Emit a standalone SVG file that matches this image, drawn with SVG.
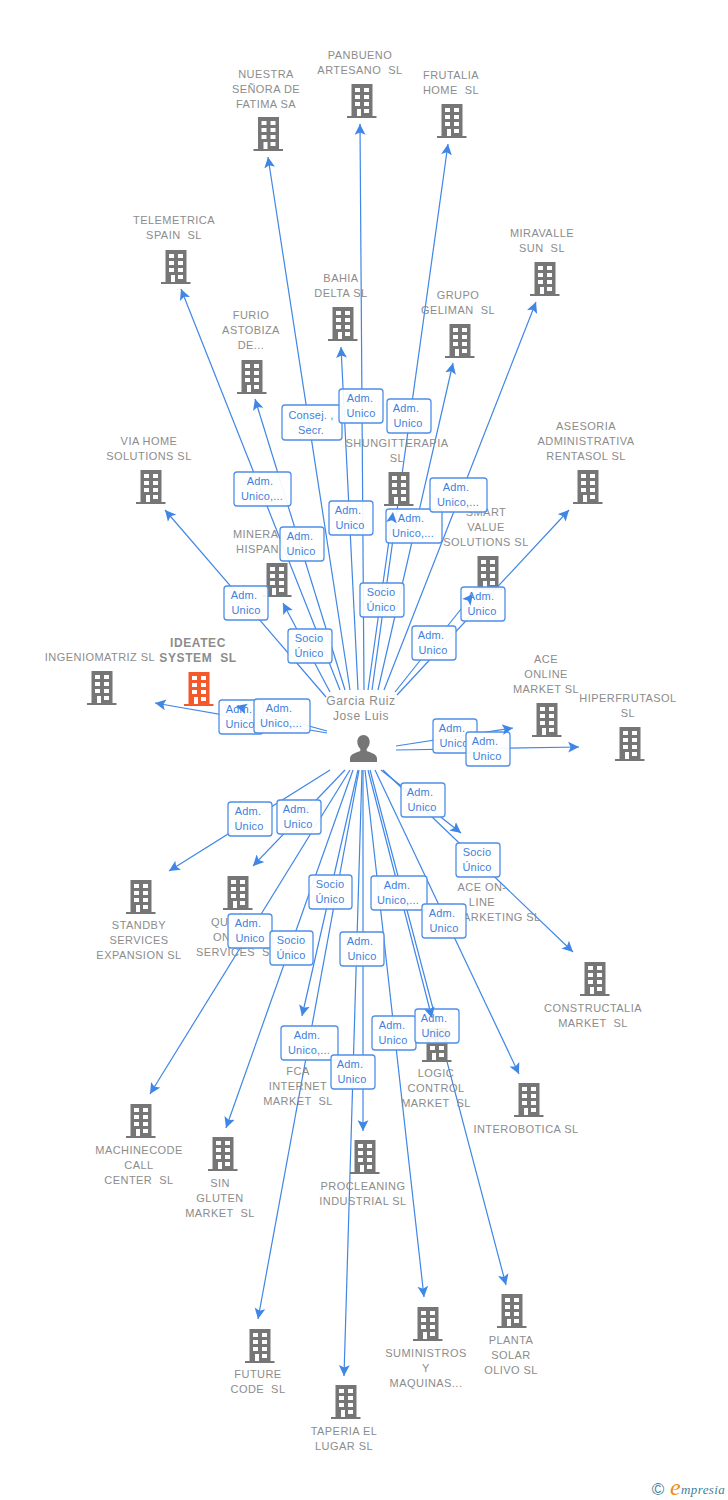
<svg xmlns="http://www.w3.org/2000/svg" width="728" height="1500" viewBox="0 0 728 1500">
<style>
text{font-family:"Liberation Sans",Arial,sans-serif;white-space:pre}
.n{font-size:11px;fill:#8c8c8c;text-anchor:middle;letter-spacing:.45px}
.s{text-anchor:start}
.e line{stroke:#3f86e6;stroke-width:1.2;fill:none}
.t line{stroke:none;fill:none}
.b{fill:#fff;fill-opacity:.93;stroke:#4f8fe8;stroke-width:1.3}
.l{font-size:11px;fill:#3f7fdc;text-anchor:middle;letter-spacing:.2px}
</style>
<defs>
<marker id="a" markerUnits="userSpaceOnUse" markerWidth="12" markerHeight="12" refX="9" refY="5" orient="auto" viewBox="0 0 10 10"><path d="M0,0.5 L9,5 L0,9.5 L2,5Z" fill="#3f86e6"/></marker>
<g id="bld"><path fill="#767676" d="M-10.5,0H10.5V32H14.5V34H-15V32H-10.5Z"/><path fill="#fff" d="M-7,4h5v4h-5zM2,4h5v4h-5zM-7,11h5v4h-5zM2,11h5v4h-5zM-7,18h5v4h-5zM2,18h5v4h-5zM-5,25h4v7h-4zM2,25h5v4h-5z"/></g>
<g id="bldo"><path fill="#f4592b" d="M-10.5,0H10.5V32H14.5V34H-15V32H-10.5Z"/><path fill="#fff" d="M-7,4h5v4h-5zM2,4h5v4h-5zM-7,11h5v4h-5zM2,11h5v4h-5zM-7,18h5v4h-5zM2,18h5v4h-5zM-5,25h4v7h-4zM2,25h5v4h-5z"/></g>
</defs>
<g id="connectors" class="e">
<line x1="350" y1="690" x2="268" y2="157"/><line x1="364" y1="690" x2="360" y2="124"/><line x1="372" y1="690" x2="448" y2="144"/><line x1="340" y1="690" x2="181" y2="289"/><line x1="358" y1="690" x2="341" y2="347"/><line x1="378" y1="690" x2="453" y2="363"/><line x1="384" y1="690" x2="536" y2="302"/><line x1="345" y1="690" x2="255" y2="399"/><line x1="368" y1="690" x2="393" y2="512"/><line x1="395" y1="692" x2="473" y2="594"/><line x1="397" y1="695" x2="569" y2="510"/><line x1="326" y1="697" x2="165" y2="510"/><line x1="330" y1="692" x2="283" y2="603"/><line x1="327" y1="731" x2="236" y2="706"/><line x1="327" y1="733" x2="155" y2="703"/><line x1="396" y1="746" x2="513" y2="728"/><line x1="396" y1="750" x2="579" y2="747"/><line x1="383" y1="770" x2="573" y2="952"/><line x1="381" y1="770" x2="461" y2="833"/><line x1="375" y1="770" x2="519" y2="1074"/><line x1="330" y1="770" x2="169" y2="871"/><line x1="345" y1="770" x2="253" y2="866"/><line x1="350" y1="770" x2="150" y2="1094"/><line x1="353" y1="770" x2="226" y2="1128"/><line x1="358" y1="770" x2="302" y2="1016"/><line x1="359" y1="770" x2="258" y2="1319"/><line x1="362" y1="770" x2="344" y2="1376"/><line x1="363" y1="770" x2="363" y2="1131"/><line x1="365" y1="770" x2="424" y2="1297"/><line x1="368" y1="770" x2="432" y2="1018"/><line x1="370" y1="770" x2="506" y2="1285"/>
</g>
<g id="n1"><use href="#bld" x="268.5" y="117"/><text class="n"><tspan x="266" y="78">NUESTRA</tspan><tspan x="266" y="93">SEÑORA DE</tspan><tspan x="266" y="108">FATIMA SA</tspan></text></g>
<g id="n2"><use href="#bld" x="362" y="84"/><text class="n"><tspan x="360" y="59">PANBUENO</tspan><tspan x="360" y="74">ARTESANO  SL</tspan></text></g>
<g id="n3"><use href="#bld" x="452" y="104"/><text class="n"><tspan x="451" y="79">FRUTALIA</tspan><tspan x="451" y="94">HOME  SL</tspan></text></g>
<g id="n4"><use href="#bld" x="176" y="250"/><text class="n"><tspan x="174" y="224">TELEMETRICA</tspan><tspan x="174" y="239">SPAIN  SL</tspan></text></g>
<g id="n5"><use href="#bld" x="343" y="307"/><text class="n"><tspan x="341" y="282">BAHIA</tspan><tspan x="341" y="297">DELTA SL</tspan></text></g>
<g id="n6"><use href="#bld" x="460" y="324"/><text class="n"><tspan x="458" y="299">GRUPO</tspan><tspan x="458" y="314">GELIMAN  SL</tspan></text></g>
<g id="n7"><use href="#bld" x="545" y="262"/><text class="n"><tspan x="542" y="237">MIRAVALLE</tspan><tspan x="542" y="252">SUN  SL</tspan></text></g>
<g id="n8"><use href="#bld" x="252" y="360"/><text class="n"><tspan x="251" y="319">FURIO</tspan><tspan x="251" y="334">ASTOBIZA</tspan><tspan x="251" y="349">DE...</tspan></text></g>
<g id="n9"><use href="#bld" x="151" y="470"/><text class="n"><tspan x="149" y="445">VIA HOME</tspan><tspan x="149" y="460">SOLUTIONS SL</tspan></text></g>
<g id="n10"><use href="#bld" x="588" y="470"/><text class="n"><tspan x="586" y="430">ASESORIA</tspan><tspan x="586" y="445">ADMINISTRATIVA</tspan><tspan x="586" y="460">RENTASOL SL</tspan></text></g>
<g id="n11"><use href="#bld" x="399" y="472"/><text class="n"><tspan x="397" y="447">SHUNGITTERAPIA</tspan><tspan x="397" y="462">SL</tspan></text></g>
<g id="n12"><use href="#bld" x="488" y="556"/><text class="n"><tspan x="486" y="516">SMART</tspan><tspan x="486" y="531">VALUE</tspan><tspan x="486" y="546">SOLUTIONS SL</tspan></text></g>
<g id="n13"><use href="#bld" x="277" y="563"/><text class="n s"><tspan x="233" y="538">MINERA</tspan><tspan x="236" y="553">HISPAN</tspan></text></g>
<g id="n14"><use href="#bld" x="102" y="671"/><text class="n"><tspan x="100" y="661">INGENIOMATRIZ SL</tspan></text></g>
<g id="n15"><use href="#bldo" x="199" y="672"/><text class="n" style="font-size:12px;font-weight:bold;letter-spacing:.6px"><tspan x="198" y="647">IDEATEC</tspan><tspan x="198" y="662">SYSTEM  SL</tspan></text></g>
<g id="n16"><use href="#bld" x="547" y="703"/><text class="n"><tspan x="546" y="663">ACE</tspan><tspan x="546" y="678">ONLINE</tspan><tspan x="546" y="693">MARKET SL</tspan></text></g>
<g id="n17"><use href="#bld" x="630" y="727"/><text class="n"><tspan x="628" y="702">HIPERFRUTASOL</tspan><tspan x="628" y="717">SL</tspan></text></g>
<g id="n18"><text class="n"><tspan x="482" y="891">ACE ON-</tspan><tspan x="482" y="906">LINE</tspan><tspan x="463" y="921" style="text-anchor:start">ARKETING SL</tspan></text></g>
<g id="n19"><use href="#bld" x="595" y="962"/><text class="n"><tspan x="593" y="1012">CONSTRUCTALIA</tspan><tspan x="593" y="1027">MARKET  SL</tspan></text></g>
<g id="n20"><use href="#bld" x="529" y="1083"/><text class="n"><tspan x="526" y="1133">INTEROBOTICA SL</tspan></text></g>
<g id="n21"><use href="#bld" x="141" y="880"/><text class="n"><tspan x="139" y="929">STANDBY</tspan><tspan x="139" y="944">SERVICES</tspan><tspan x="139" y="959">EXPANSION SL</tspan></text></g>
<g id="n22"><use href="#bld" x="238" y="876"/><text class="n s"><tspan x="211" y="926">QU</tspan><tspan x="213" y="941">ON</tspan><tspan x="196" y="956">SERVICES  S</tspan></text></g>
<g id="n23"><use href="#bld" x="141" y="1104"/><text class="n"><tspan x="139" y="1154">MACHINECODE</tspan><tspan x="139" y="1169">CALL</tspan><tspan x="139" y="1184">CENTER  SL</tspan></text></g>
<g id="n24"><use href="#bld" x="223" y="1137"/><text class="n"><tspan x="220" y="1187">SIN</tspan><tspan x="220" y="1202">GLUTEN</tspan><tspan x="220" y="1217">MARKET  SL</tspan></text></g>
<g id="n25"><text class="n"><tspan x="298" y="1075">FCA</tspan><tspan x="298" y="1090">INTERNET</tspan><tspan x="298" y="1105">MARKET  SL</tspan></text></g>
<g id="n26"><use href="#bld" x="437" y="1028"/><text class="n"><tspan x="436" y="1077">LOGIC</tspan><tspan x="436" y="1092">CONTROL</tspan><tspan x="436" y="1107">MARKET  SL</tspan></text></g>
<g id="n27"><use href="#bld" x="365" y="1140"/><text class="n"><tspan x="363" y="1190">PROCLEANING</tspan><tspan x="363" y="1205">INDUSTRIAL SL</tspan></text></g>
<g id="n28"><use href="#bld" x="260" y="1329"/><text class="n"><tspan x="258" y="1378">FUTURE</tspan><tspan x="258" y="1393">CODE  SL</tspan></text></g>
<g id="n29"><use href="#bld" x="346" y="1385"/><text class="n"><tspan x="344" y="1435">TAPERIA EL</tspan><tspan x="344" y="1450">LUGAR SL</tspan></text></g>
<g id="n30"><use href="#bld" x="428" y="1307"/><text class="n"><tspan x="426" y="1357">SUMINISTROS</tspan><tspan x="426" y="1372">Y</tspan><tspan x="426" y="1387">MAQUINAS...</tspan></text></g>
<g id="n31"><use href="#bld" x="512" y="1294"/><text class="n"><tspan x="511" y="1344">PLANTA</tspan><tspan x="511" y="1359">SOLAR</tspan><tspan x="511" y="1374">OLIVO SL</tspan></text></g>
<g id="person"><path fill="#767676" d="M363.5,735c3.8,0,6.2,3,6.2,6.8c0,3-1.3,5.500-3,7v2.200c3,1.500,10.300,2.500,10.300,7.500v3.500h-27v-3.500c0,-5,7.300,-6,10.300,-7.500v-2.200c-1.700,-1.500,-3,-4,-3,-7c0,-3.800,2.400,-6.800,6.200,-6.800z"/><text class="n" style="font-size:12px;letter-spacing:.6px"><tspan x="361" y="705">Garcia Ruiz</tspan><tspan x="361" y="720">Jose Luis</tspan></text></g>
<g id="labels">
<rect class="b" x="282" y="405" width="60" height="35" rx="3"/><text class="l"><tspan x="311" y="419">Consej. ,</tspan><tspan x="311" y="434">Secr.</tspan></text>
<rect class="b" x="339" y="389" width="44" height="34" rx="3"/><text class="l"><tspan x="360" y="402">Adm.</tspan><tspan x="361" y="417">Unico</tspan></text>
<rect class="b" x="387" y="399" width="44" height="34" rx="3"/><text class="l"><tspan x="406" y="412">Adm.</tspan><tspan x="408" y="427">Unico</tspan></text>
<rect class="b" x="234" y="472" width="57" height="34" rx="3"/><text class="l"><tspan x="260" y="485">Adm.</tspan><tspan x="262" y="500">Unico,...</tspan></text>
<rect class="b" x="280" y="527" width="44" height="34" rx="3"/><text class="l"><tspan x="300" y="540">Adm.</tspan><tspan x="301" y="555">Unico</tspan></text>
<rect class="b" x="329" y="501" width="44" height="34" rx="3"/><text class="l"><tspan x="348" y="514">Adm.</tspan><tspan x="350" y="529">Unico</tspan></text>
<rect class="b" x="386" y="509" width="56" height="34" rx="3"/><text class="l"><tspan x="411" y="522">Adm.</tspan><tspan x="413" y="537">Unico,...</tspan></text>
<rect class="b" x="430" y="478" width="57" height="34" rx="3"/><text class="l"><tspan x="456" y="491">Adm.</tspan><tspan x="458" y="506">Unico,...</tspan></text>
<rect class="b" x="360" y="583" width="44" height="34" rx="3"/><text class="l"><tspan x="381" y="596">Socio</tspan><tspan x="381" y="611">Único</tspan></text>
<rect class="b" x="461" y="587" width="44" height="34" rx="3"/><text class="l"><tspan x="481" y="600">Adm.</tspan><tspan x="482" y="615">Unico</tspan></text>
<rect class="b" x="412" y="626" width="44" height="34" rx="3"/><text class="l"><tspan x="431" y="639">Adm.</tspan><tspan x="433" y="654">Unico</tspan></text>
<rect class="b" x="224" y="586" width="44" height="34" rx="3"/><text class="l"><tspan x="244" y="599">Adm.</tspan><tspan x="246" y="614">Unico</tspan></text>
<rect class="b" x="288" y="629" width="44" height="34" rx="3"/><text class="l"><tspan x="309" y="642">Socio</tspan><tspan x="309" y="657">Único</tspan></text>
<rect class="b" x="219" y="700" width="44" height="34" rx="3"/><text class="l"><tspan x="239" y="713">Adm.</tspan><tspan x="240" y="728">Unico</tspan></text>
<rect class="b" x="254" y="699" width="56" height="34" rx="3"/><text class="l"><tspan x="279" y="712">Adm.</tspan><tspan x="281" y="727">Unico,...</tspan></text>
<rect class="b" x="433" y="719" width="44" height="34" rx="3"/><text class="l"><tspan x="452" y="732">Adm.</tspan><tspan x="454" y="747">Unico</tspan></text>
<rect class="b" x="466" y="732" width="44" height="34" rx="3"/><text class="l"><tspan x="485" y="745">Adm.</tspan><tspan x="487" y="760">Unico</tspan></text>
<rect class="b" x="401" y="783" width="44" height="34" rx="3"/><text class="l"><tspan x="420" y="796">Adm.</tspan><tspan x="422" y="811">Unico</tspan></text>
<rect class="b" x="456" y="843" width="44" height="34" rx="3"/><text class="l"><tspan x="477" y="856">Socio</tspan><tspan x="477" y="871">Único</tspan></text>
<rect class="b" x="228" y="802" width="44" height="34" rx="3"/><text class="l"><tspan x="248" y="815">Adm.</tspan><tspan x="249" y="830">Unico</tspan></text>
<rect class="b" x="277" y="800" width="44" height="34" rx="3"/><text class="l"><tspan x="296" y="813">Adm.</tspan><tspan x="298" y="828">Unico</tspan></text>
<rect class="b" x="309" y="875" width="43" height="34" rx="3"/><text class="l"><tspan x="330" y="888">Socio</tspan><tspan x="330" y="903">Único</tspan></text>
<rect class="b" x="371" y="876" width="56" height="34" rx="3"/><text class="l"><tspan x="397" y="889">Adm.</tspan><tspan x="398" y="904">Unico,...</tspan></text>
<rect class="b" x="422" y="904" width="44" height="34" rx="3"/><text class="l"><tspan x="442" y="917">Adm.</tspan><tspan x="444" y="932">Unico</tspan></text>
<rect class="b" x="228" y="914" width="44" height="34" rx="3"/><text class="l"><tspan x="248" y="927">Adm.</tspan><tspan x="250" y="942">Unico</tspan></text>
<rect class="b" x="270" y="931" width="43" height="34" rx="3"/><text class="l"><tspan x="291" y="944">Socio</tspan><tspan x="291" y="959">Único</tspan></text>
<rect class="b" x="340" y="932" width="44" height="34" rx="3"/><text class="l"><tspan x="360" y="945">Adm.</tspan><tspan x="362" y="960">Unico</tspan></text>
<rect class="b" x="281" y="1026" width="57" height="34" rx="3"/><text class="l"><tspan x="307" y="1039">Adm.</tspan><tspan x="309" y="1054">Unico,...</tspan></text>
<rect class="b" x="331" y="1055" width="44" height="34" rx="3"/><text class="l"><tspan x="350" y="1068">Adm.</tspan><tspan x="352" y="1083">Unico</tspan></text>
<rect class="b" x="372" y="1016" width="44" height="34" rx="3"/><text class="l"><tspan x="392" y="1029">Adm.</tspan><tspan x="393" y="1044">Unico</tspan></text>
<rect class="b" x="415" y="1009" width="44" height="34" rx="3"/><text class="l"><tspan x="434" y="1022">Adm.</tspan><tspan x="436" y="1037">Unico</tspan></text>
</g>
<g id="arrowheads" class="t">
<line x1="350" y1="690" x2="268" y2="157" marker-end="url(#a)"/><line x1="364" y1="690" x2="360" y2="124" marker-end="url(#a)"/><line x1="372" y1="690" x2="448" y2="144" marker-end="url(#a)"/><line x1="340" y1="690" x2="181" y2="289" marker-end="url(#a)"/><line x1="358" y1="690" x2="341" y2="347" marker-end="url(#a)"/><line x1="378" y1="690" x2="453" y2="363" marker-end="url(#a)"/><line x1="384" y1="690" x2="536" y2="302" marker-end="url(#a)"/><line x1="345" y1="690" x2="255" y2="399" marker-end="url(#a)"/><line x1="368" y1="690" x2="393" y2="512" marker-end="url(#a)"/><line x1="395" y1="692" x2="473" y2="594" marker-end="url(#a)"/><line x1="397" y1="695" x2="569" y2="510" marker-end="url(#a)"/><line x1="326" y1="697" x2="165" y2="510" marker-end="url(#a)"/><line x1="330" y1="692" x2="283" y2="603" marker-end="url(#a)"/><line x1="327" y1="731" x2="236" y2="706" marker-end="url(#a)"/><line x1="327" y1="733" x2="155" y2="703" marker-end="url(#a)"/><line x1="396" y1="746" x2="513" y2="728" marker-end="url(#a)"/><line x1="396" y1="750" x2="579" y2="747" marker-end="url(#a)"/><line x1="383" y1="770" x2="573" y2="952" marker-end="url(#a)"/><line x1="381" y1="770" x2="461" y2="833" marker-end="url(#a)"/><line x1="375" y1="770" x2="519" y2="1074" marker-end="url(#a)"/><line x1="330" y1="770" x2="169" y2="871" marker-end="url(#a)"/><line x1="345" y1="770" x2="253" y2="866" marker-end="url(#a)"/><line x1="350" y1="770" x2="150" y2="1094" marker-end="url(#a)"/><line x1="353" y1="770" x2="226" y2="1128" marker-end="url(#a)"/><line x1="358" y1="770" x2="302" y2="1016" marker-end="url(#a)"/><line x1="359" y1="770" x2="258" y2="1319" marker-end="url(#a)"/><line x1="362" y1="770" x2="344" y2="1376" marker-end="url(#a)"/><line x1="363" y1="770" x2="363" y2="1131" marker-end="url(#a)"/><line x1="365" y1="770" x2="424" y2="1297" marker-end="url(#a)"/><line x1="368" y1="770" x2="432" y2="1018" marker-end="url(#a)"/><line x1="370" y1="770" x2="506" y2="1285" marker-end="url(#a)"/>
</g>
<g id="logo"><text x="658" y="1495" style="font-size:17px;fill:#4a7f9c;text-anchor:middle">©</text><text x="670" y="1495" style="font-size:24px;font-style:italic;fill:#f08a1d;font-family:'Liberation Serif',serif">e</text><text x="681" y="1494" style="font-size:13px;font-style:italic;fill:#3f7f9c;font-family:'Liberation Serif',serif;letter-spacing:.4px">mpresia</text></g>
</svg>
